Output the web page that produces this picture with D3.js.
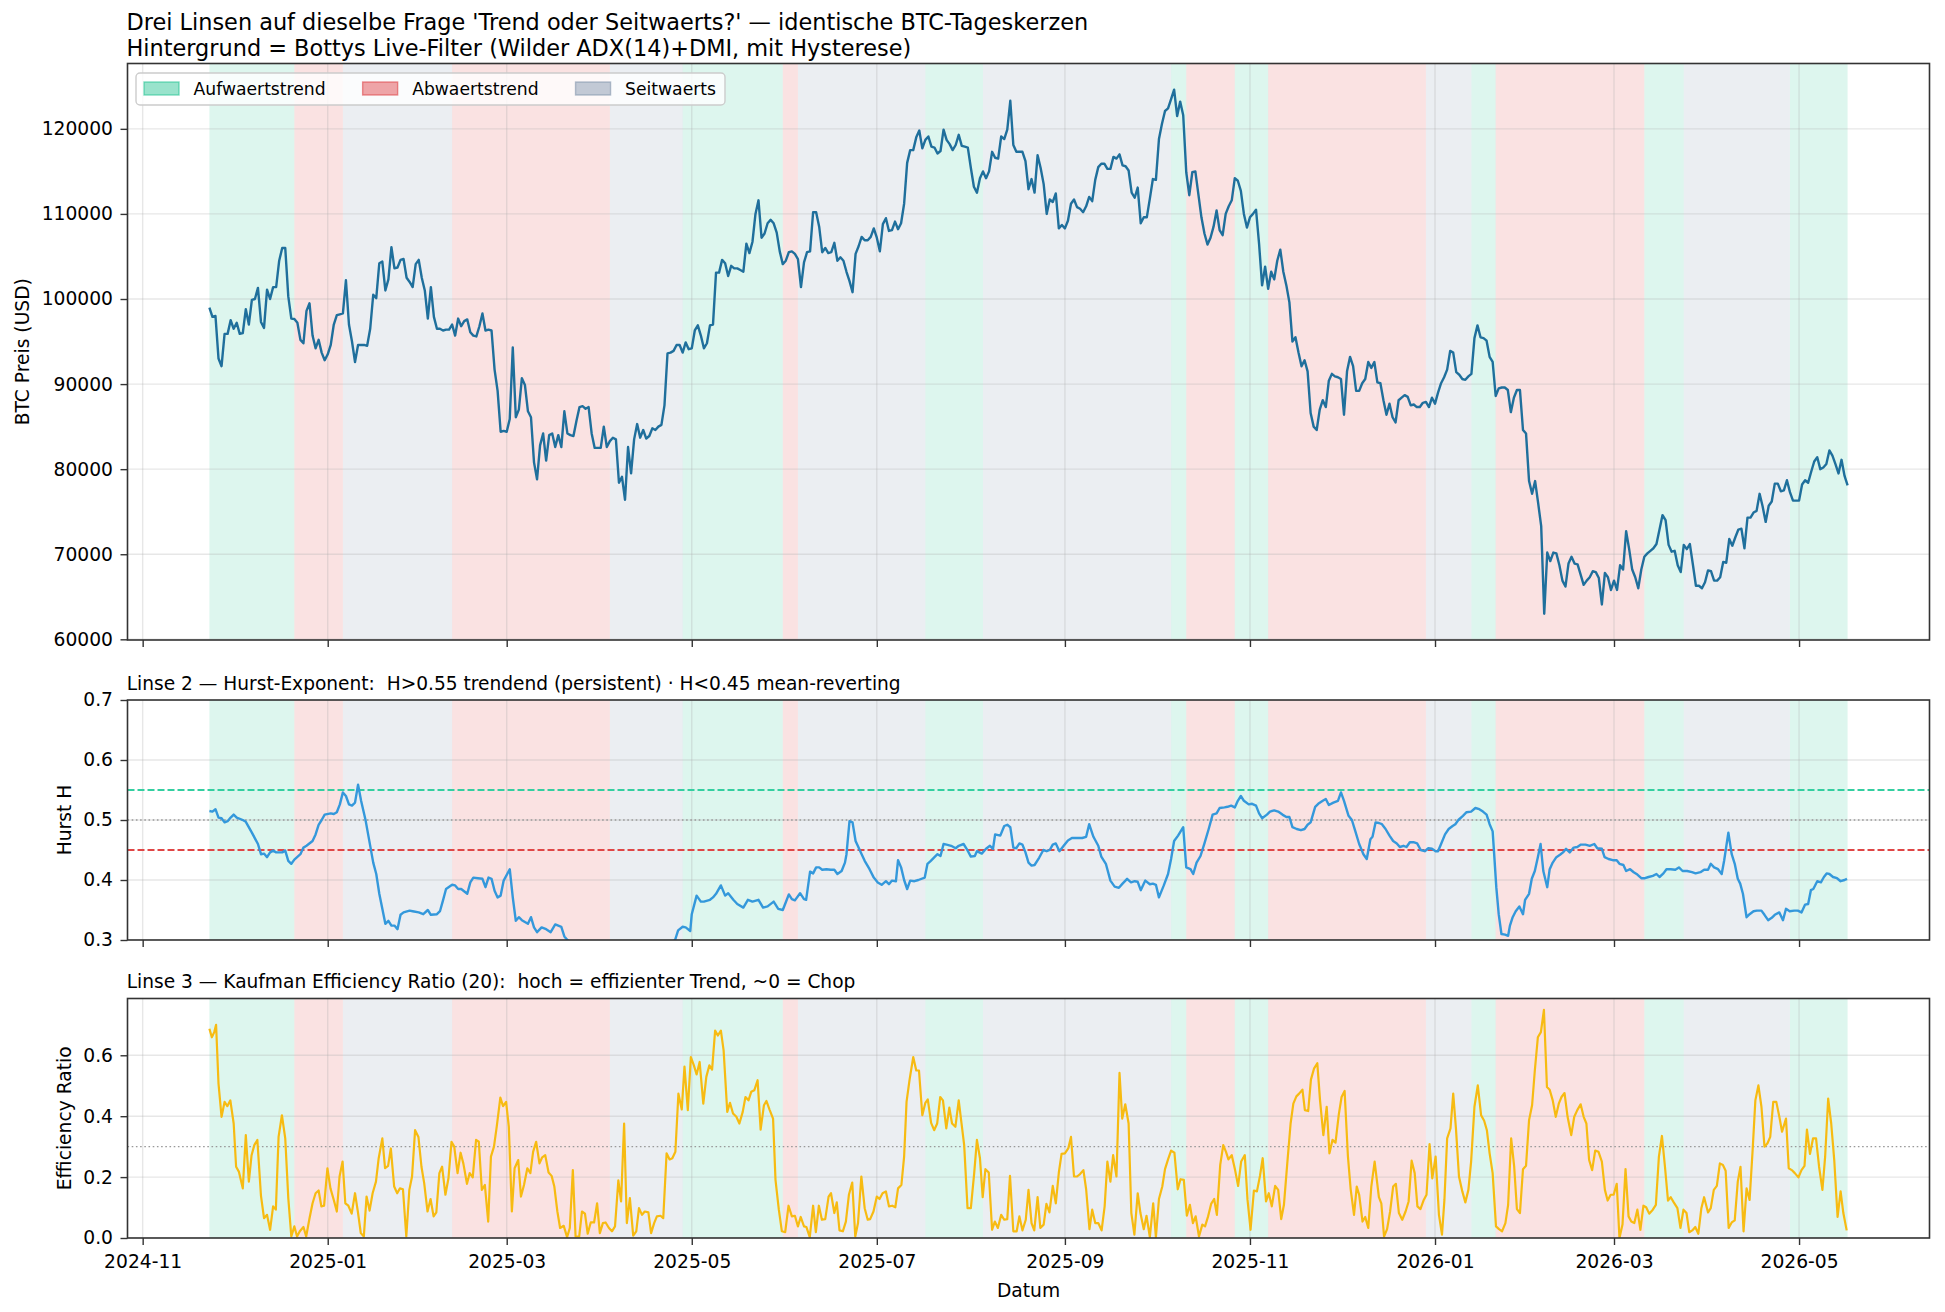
<!DOCTYPE html>
<html><head><meta charset="utf-8">
<script src="https://cdn.jsdelivr.net/npm/d3@7"></script>
<style>
html,body{margin:0;padding:0;background:#fff;}
svg{display:block;font-family:"DejaVu Sans",sans-serif;}
</style></head><body>
<svg id="chart" width="1945" height="1312"></svg>
<script>
// ---------------- DATA ----------------
const DAY0 = "2024-11-01";           // reference for day offsets below
const priceStart = "2024-11-23";     // first daily close
const btcClose = [
99000,97900,98000,93000,92100,95900,95900,97500,96500,97200,
95900,96000,98800,97000,99900,100000,101300,97300,96600,101100,
100000,101400,101400,104500,106000,106000,100300,97700,97650,97200,
95200,94800,98600,99500,95700,94200,95200,93700,92800,93500,
94600,97000,98100,98200,98300,102200,97000,95000,92600,94600,
94600,94600,94500,96500,100500,100100,104200,104400,101000,102300,
106100,103600,103700,104600,104700,102500,102000,101400,104100,104600,
102500,101000,97700,101400,97900,96500,96500,96300,96400,96400,
97000,95700,97700,96800,97400,97600,96100,95700,95600,96800,
98300,96300,96400,96300,91700,89200,84400,84500,84400,85900,
94300,86100,87000,90700,89900,86800,86100,80800,78800,82800,
84200,81000,84000,84200,82600,84000,82600,86800,84200,84000,
83900,85700,87300,87400,87100,87300,84200,82500,82500,82500,
85000,82600,83300,83700,83500,78400,79100,76400,82600,79500,
83500,85300,83700,84600,83600,83900,84800,84600,85000,85200,
87500,93600,93700,93900,94600,94600,93700,94900,94100,94200,
96300,96900,95700,94200,94800,96900,97000,103100,103100,104600,
104200,102700,103900,103600,103600,103400,103200,106500,105400,106700,
110000,111600,
107200,107700,108900,109300,108900,107800,105600,104100,104500,105500,
105600,105300,104700,101400,104300,105500,105600,110200,110200,108500,
105500,106000,105400,105500,106600,104500,104900,104500,103200,102100,
100800,105300,106200,107300,106900,106900,107300,108300,107200,
105600,108800,109500,108000,108100,109100,108200,108900,111200,116000,
117500,117500,119000,119800,117700,118700,119100,117900,117800,117100,
117400,119900,118700,118200,117500,118100,119300,118000,117900,117800,
115400,113200,112500,114200,115000,114200,115000,117300,116600,116500,
119100,118800,119900,123300,118100,117300,117300,117300,116200,112900,
114100,112500,116900,115400,113500,110000,111700,111400,112400,108300,
108700,108300,
109200,111200,111700,110800,110600,110200,110900,112000,111500,114000,
115500,115900,115900,115300,115300,116700,116500,117000,115700,115600,
115100,112500,111900,113100,108900,109600,109600,111800,114100,114000,
118800,120600,122100,122400,123500,124600,
121500,123200,121600,114900,112200,114900,115000,112300,109600,107700,
106400,107200,108500,110400,108100,107500,110000,110900,111600,114200,
113900,112700,110000,108400,109600,110000,110500,106500,101600,103800,
101200,103200,102300,104500,105800,103200,101600,99600,95000,95500,
93700,92100,92800,91500,86600,85000,84600,87000,88100,87300,
90400,91200,90900,90800,90600,86400,91500,93200,92100,89200,
89200,90100,90600,92600,91900,92600,90200,
90100,88100,86400,87700,86100,85500,88100,88400,88700,88500,
87500,87600,87300,87300,87800,87900,87300,88400,87700,
89000,90100,90800,91700,93900,93700,91400,91100,90600,90500,
90900,91200,95400,96900,95500,95400,95100,93200,92600,88600,
89500,89600,89600,89300,86700,88400,89300,89300,84600,84200,
78600,77100,78600,76000,73300,63000,70200,69200,70200,70100,
68700,66900,66200,68900,69700,68900,68800,67600,66400,66900,
67300,68000,67900,67200,64100,67800,67300,65800,66900,
65800,68700,68200,72700,70600,68200,67300,66000,68200,69700,
70100,70400,70700,71200,72900,74600,74000,71100,70300,70400,
68700,67900,71100,70600,71200,68800,66300,66300,66000,66700,
68100,68000,66900,66900,67300,69100,69000,71800,71000,72000,
72900,73000,70700,74300,74300,74900,75100,77100,75600,73800,
75700,76200,78300,78300,77400,77500,78700,77300,76300,76300,
76300,
78200,78700,78400,79700,80900,81400,80000,80200,80600,82200,
81600,80600,79500,81100,79200,78100
];

// [days since DAY0, Hurst H]
const hurstH = [
[22,.515],[23,.514],[24,.518],[25,.504],[26,.503],[27,.496],[28,.498],[29,.504],[30,.509],[31,.504],[33,.500],[34,.497],[36,.479],[38,.460],[39,.443],[40,.444],[41,.438],[42,.446],[43,.449],[44,.446],[46,.446],[47,.449],[48,.432],[49,.427],[50,.434],[52,.443],[53,.454],[54,.457],[56,.465],[57,.476],[58,.492],[59,.500],[60,.509],[62,.511],[63,.510],[64,.513],[65,.526],[66,.546],[67,.540],[68,.526],[69,.524],[70,.529],[71,.559],[72,.532],[73.5,.499],[74.5,.471],[76,.429],[77,.410],[78,.377],[80,.327],[81,.332],[82,.324],[83,.324],[84,.318],[85,.342],[86,.346],[88,.349],[89,.348],[91,.346],[92.5,.343],[94,.350],[95,.342],[97,.343],[98,.348],[99,.366],[100,.385],[102,.392],[103,.391],[104,.385],[105,.385],[107,.377],[108,.396],[109,.404],[110.5,.403],[112,.402],[113,.388],[114,.404],[115,.402],[116,.382],[117,.371],[118,.374],[119,.399],[121,.418],[122,.371],[123,.332],[124,.338],[125,.333],[127,.327],[128,.338],[129,.321],[130,.313],[131.5,.321],[133,.318],[134.5,.313],[136,.326],[138,.322],[139,.306],[140,.300],[145,.28],[152,.27],[160,.26],[168,.275],[175.5,.300],[176.5,.316],[178,.322],[179,.321],[180.5,.315],[181,.343],[182.6,.374],[184,.364],[185,.364],[187,.367],[188,.371],[189,.377],[190.6,.391],[192,.374],[193,.378],[194.7,.367],[196,.360],[198,.354],[199.5,.367],[201,.364],[203,.367],
[204.5,.354],[206,.356],[208,.364],[209.5,.352],[211,.350],[212,.363],[213,.376],[214,.368],[215,.366],[216.7,.378],[218,.368],[218.7,.367],[220,.414],[221,.411],[222,.421],[223,.421],[224,.417],[225.4,.418],[226.8,.417],[228,.417],[229,.410],[230.4,.415],[231.5,.429],[232,.443],[233,.498],[234,.496],[235,.465],[237,.443],[238,.432],[239.6,.418],[241,.404],[242.3,.396],[243.6,.392],[245,.398],[246,.393],[247,.399],[248.3,.398],[249,.433],[250,.421],[251,.400],[252,.385],[253,.399],[254.4,.398],[255.7,.400],[257.8,.404],[258.7,.427],[259.8,.432],[261,.438],[262,.443],[263,.440],[264,.460],[265,.459],[266.5,.457],[268,.453],[269,.457],[270.6,.460],[271.6,.452],[273,.439],[274.3,.440],[275,.448],[276.6,.444],[278,.452],[279.3,.457],[280.3,.452],[281,.476],[282.7,.474],[284,.490],[285,.492],[286,.488],[287,.454],[288,.453],[289,.461],[290,.459],[291,.446],[292,.429],[293,.424],[294,.425],[295.5,.437],[296.9,.450],[298,.448],[299,.450],[300,.459],[301,.461],[302.2,.448],[303.6,.457],[305,.466],[306.3,.470],[308.3,.470],[309.7,.470],[311,.472],[312,.493],[313.4,.472],[315,.457],[316,.439],[317.5,.427],[319,.399],[320.4,.389],[321.8,.387],[323,.394],[324.5,.402],[325.8,.396],[327,.398],[328,.397],[329,.383],[330.5,.399],[332,.393],[333,.394],[334,.392],[335,.371],[336.6,.391],[338,.410],[339,.435],[340,.465],[341.3,.474],[343,.488],[344,.421],[345.4,.418],[346.3,.410],[347.4,.429],[348.7,.440],[350,.461],[351.4,.485],[352.7,.509],[354,.511],[355,.520],[356.6,.521],[357.6,.522],[358.8,.524],[360,.521],[361,.532],[362,.540],[363,.532],[364.6,.526],[365.7,.527],[367,.524],[368,.511],[369,.503],[370.6,.509],[371.6,.514],[373,.516],[374.3,.514],[375.7,.509],[377,.505],[378,.505],[379,.488],[380.4,.485],[381.8,.483],[383,.485],[384,.492],[385,.496],[386.5,.522],[387.5,.527],[389,.532],[390,.535],[391,.525],[392.5,.529],[394,.532],[395,.546],[396,.532],[397.5,.507],[398.6,.500],[399.7,.482],[401,.460],[402.4,.443],[403.5,.435],[404.7,.468],[405.4,.472],[406.4,.496],[407.5,.495],
[408.5,.493],[409.7,.485],[411,.474],[412.2,.465],[413.4,.461],[414.4,.455],[415.6,.457],[416.6,.455],[417.7,.463],[418.9,.463],[420.1,.461],[421.3,.450],[422.6,.448],[423.8,.453],[425,.452],[426.2,.448],[427,.448],[428,.460],[429.3,.476],[430.5,.485],[431.8,.490],[432.7,.493],[433.7,.500],[435.2,.507],[436.4,.513],[437.9,.514],[439.3,.520],[440.6,.518],[441.8,.514],[443,.509],[444,.493],[445,.481],[445.5,.443],[446.2,.388],[447,.343],[447.9,.310],[449.1,.309],[450.1,.307],[450.7,.324],[451.6,.338],[452.6,.348],[453.8,.356],[455,.343],[455.7,.367],[457,.377],[457.9,.402],[458.9,.415],[459.9,.438],[460.8,.460],[461.7,.415],[463,.388],[463.8,.418],[464.8,.429],[466,.438],[467.2,.442],[468.2,.446],[469.2,.452],[470.4,.446],[471.7,.454],[472.9,.455],[474.1,.459],[475.6,.459],[477,.457],[478.5,.460],[479.5,.453],[481,.452],[481.9,.438],[483.2,.435],[484.6,.433],[485.9,.433],[486.8,.427],[488.1,.425],[489,.415],[490.3,.418],[491.5,.413],[492.7,.409],[494,.403],[495.2,.403],[496.4,.405],[497.8,.407],[499,.410],[500,.405],[501.3,.411],[502.3,.418],[503.7,.418],[505.2,.417],[506.4,.421],[507.6,.415],[509.1,.415],[510.7,.413],[511.9,.411],[513.5,.413],[514.7,.417],[516,.417],[516.9,.427],[518,.421],[519.3,.418],[520.5,.410],[521.3,.432],[522.7,.479],[523.8,.443],[524.8,.427],[525.8,.402],[526.6,.394],[527.5,.377],[528.7,.338],[529.7,.343],[531,.348],[532.1,.349],[533.6,.349],[534.6,.342],[535.8,.333],[537,.337],[538,.342],[539.5,.346],[540.7,.333],[541.7,.352],[542.9,.348],[544.4,.349],[545.6,.349],[546.8,.346],[548,.359],[549,.360],[549.9,.383],[550.7,.385],[552,.398],[553.2,.396],[554.2,.405],[555.1,.411],[556,.410],[557.2,.405],[558.5,.403],[559.7,.398],[561,.400],[561.8,.402]
];

// [days since DAY0, Kaufman efficiency ratio]
const efficiencyRatio = [
[22,.687],[22.8,.659],[23.6,.676],[24.2,.700],[25,.507],[26,.398],[27,.447],[27.9,.433],[28.9,.452],[30,.376],[30.8,.234],[31.7,.218],[33,.163],[34,.338],[35,.185],[35.9,.272],[36.8,.305],[37.8,.322],[39,.138],[40,.065],[41,.076],[42,.027],[43,.104],[43.9,.093],[44.8,.332],[45.9,.403],[47,.327],[48,.131],[49,.005],[50,.038],[50.9,.005],[51.8,.022],[53,.036],[53.9,.005],[55,.065],[56,.114],[57,.147],[58,.156],[58.9,.104],[59.8,.106],[60.9,.229],[61.9,.163],[63,.125],[64,.087],[64.9,.202],[65.9,.251],[66.8,.114],[67.8,.106],[68.9,.080],[70,.147],[71,.082],[71.9,.016],[72.9,.005],[73.8,.136],[74.8,.090],[75.8,.147],[76.9,.185],[77.8,.262],[79,.327],[79.9,.229],[80.9,.237],[81.8,.294],[82.9,.169],[83.9,.147],[84.8,.163],[85.8,.160],[86.9,.005],[87.9,.158],[88.8,.202],[89.8,.354],[90.9,.332],[91.9,.234],[92.8,.180],[93.9,.087],[94.9,.128],[95.9,.071],[96.8,.084],[97.8,.213],[98.7,.234],[99.8,.142],[100.8,.196],[101.8,.316],[102.7,.300],[103.8,.213],[104.8,.280],[105.7,.245],[106.9,.178],[107.8,.213],[108.8,.199],[109.9,.322],[110.8,.316],[111.8,.158],[112.8,.174],[113.9,.054],[114.8,.267],[115.8,.300],[116.7,.365],[117.9,.461],[118.8,.433],[119.8,.447],[120.7,.365],[121.7,.087],[122.6,.229],[123.8,.256],[124.7,.136],[125.7,.174],[126.8,.229],[127.8,.213],[128.7,.283],[129.7,.316],[130.8,.245],[131.7,.265],[132.7,.272],[133.8,.215],[134.8,.204],[135.7,.169],[136.7,.087],[137.6,.033],[138.8,.040],[139.9,.003],[140.8,.033],[141.8,.223],[142.7,.005],[143.9,.005],[144.8,.087],[145.8,.080],[146.7,.014],[147.7,.051],[148.8,.051],[149.8,.114],[150.7,.016],[151.7,.049],[152.6,.051],[153.7,.033],[154.7,.022],[155.7,.038],[156.8,.189],[157.7,.120],[158.7,.376],[159.6,.049],[160.6,.131],[161.7,.008],[162.7,.022],[163.6,.098],[164.6,.076],[165.5,.087],[166.7,.084],[167.6,.016],[168.6,.049],[169.5,.071],[170.7,.073],[171.6,.065],[172.7,.278],[173.7,.258],[174.6,.262],[175.6,.283],[176.6,.474],[177.7,.422],[178.6,.563],[179.7,.420],[180.7,.594],[181.7,.567],[182.6,.537],[183.6,.578],[184.8,.441],[185.8,.529],[186.8,.567],[187.7,.553],[188.7,.681],[189.6,.665],[190.6,.681],[191.5,.616],[192.7,.414],[193.6,.444],[194.6,.409],[195.7,.398],[196.7,.376],[197.8,.414],[198.7,.463],[199.7,.452],[200.6,.480],[201.6,.485],[202.7,.518],
[203.7,.356],[204.8,.436],[205.6,.450],[206.7,.420],[207.8,.392],[208.6,.191],[209.7,.093],[210.7,.022],[211.8,.019],[212.9,.106],[214,.071],[215,.073],[216,.038],[216.9,.069],[218,.038],[218.8,.036],[219.9,.003],[221,.106],[221.9,.019],[222.9,.106],[223.9,.060],[225,.062],[226.1,.136],[226.9,.147],[228,.082],[228.8,.117],[229.7,.025],[230.8,.022],[231.8,.054],[232.8,.142],[233.9,.182],[234.9,.005],[235.8,.049],[236.9,.202],[238,.098],[239,.060],[239.8,.062],[240.9,.087],[242,.136],[242.9,.128],[243.9,.147],[245,.153],[246,.104],[247.1,.106],[248.1,.101],[249,.163],[250.1,.174],[251,.267],[251.8,.447],[252.8,.520],[254,.594],[255,.550],[255.9,.550],[257,.403],[258,.444],[258.8,.455],[259.9,.378],[260.9,.354],[261.9,.376],[262.9,.463],[263.8,.452],[264.9,.360],[265.9,.428],[266.8,.376],[267.9,.365],[269,.452],[269.9,.378],[270.8,.305],[271.9,.098],[273,.098],[274.1,.213],[275,.322],[276,.262],[276.9,.134],[277.8,.226],[278.9,.215],[280,.027],[280.9,.054],[281.9,.033],[283,.076],[284,.060],[285,.062],[285.9,.204],[287,.022],[288.1,.022],[289,.071],[290,.025],[291.1,.060],[292,.158],[293,.049],[293.9,.025],[295,.134],[295.9,.033],[297,.044],[297.9,.112],[298.9,.084],[300,.171],[301,.114],[302,.215],[302.9,.276],[304,.278],[305.1,.294],[306,.332],[307,.202],[308,.202],[309,.210],[310.1,.223],[311,.160],[312.1,.029],[313,.093],[314,.049],[315,.049],[316.1,.025],[317.1,.104],[318,.251],[319,.185],[319.9,.272],[321,.202],[322,.542],[322.9,.392],[323.9,.439],[325,.376],[325.9,.082],[326.9,.011],[328,.147],[328.9,.082],[330,.029],[330.9,.073],[332,.003],[333.1,.114],[334,.003],[335,.128],[336.1,.169],[337,.226],[338,.258],[339,.287],[340.1,.280],[341.2,.160],[342.1,.193],[343.2,.191],[344.2,.073],[345.2,.109],[346.2,.049],[347.1,.071],[348.2,.005],[349.3,.044],[350.2,.038],[351.2,.071],[352.2,.112],[353.2,.128],[354.1,.076],[355.2,.240],[356.2,.305],[357.1,.283],[357.9,.258],[359,.272],[360.1,.223],[361.1,.171],[362.1,.251],[363.3,.272],[364.2,.125],[365.2,.027],[366.3,.156],[367.3,.153],[368.3,.204],[369.2,.262],[370.3,.120],[371.2,.147],[372.2,.104],[373.3,.171],[374.3,.158],[375.3,.062],[376.2,.109],[377.3,.245],[378.4,.376],[379.3,.441],[380.3,.465],[381.2,.474],[382.3,.487],[383.1,.420],[384.2,.417],[385.1,.520],[386.1,.556],[387.2,.574],[388.1,.452],[389.2,.338],[390.3,.431],[391.2,.278],[392.2,.322],[393.2,.313],[394.3,.407],[395.2,.463],[396.2,.483],[397.3,.267],[398.2,.160],[399.3,.076],[400.2,.169],[401,.142],[402.1,.054],[403,.069],[404,.033],[405,.169],[406.1,.251],[407.5,.134],
[408.3,.114],[409.2,.005],[410.2,.029],[411.2,.087],[412.2,.169],[413.1,.178],[414.1,.082],[415.2,.060],[416.3,.087],[417.3,.120],[418.3,.254],[419.3,.213],[420.2,.104],[421.2,.095],[422.2,.123],[423.2,.142],[424.2,.308],[425.1,.196],[426.2,.267],[427.3,.076],[428.3,.011],[429.1,.125],[430,.327],[431.1,.360],[432,.474],[432.9,.360],[433.9,.202],[435,.153],[436,.117],[437,.158],[437.9,.251],[439,.431],[440.1,.501],[441.2,.403],[442.2,.385],[443.1,.354],[444,.278],[445,.213],[446.1,.038],[447.1,.029],[448.1,.022],[449.2,.049],[450.1,.109],[451.1,.327],[452.1,.234],[453,.095],[454,.082],[455,.226],[456,.237],[457,.387],[458,.436],[458.9,.550],[459.9,.659],[460.9,.676],[461.9,.749],[462.9,.496],[463.8,.487],[464.8,.452],[465.8,.398],[466.8,.441],[467.7,.463],[468.7,.476],[469.7,.398],[470.9,.338],[471.9,.398],[472.9,.420],[474,.439],[475,.398],[475.9,.376],[476.8,.256],[477.8,.223],[478.8,.287],[479.9,.283],[481,.251],[482,.158],[482.9,.123],[483.9,.142],[484.9,.142],[485.9,.178],[486.8,0],[487.8,.044],[488.8,.226],[489.8,.071],[490.7,.054],[491.7,.049],[492.7,.093],[493.7,.027],[494.7,.106],[495.6,.101],[496.6,.080],[497.8,.093],[498.8,.109],[499.8,.267],[500.8,.335],[501.8,.234],[502.8,.123],[503.7,.134],[504.7,.117],[505.9,.098],[506.9,.033],[507.9,.093],[508.9,.082],[509.8,.019],[510.8,.025],[511.8,.036],[512.8,.014],[513.8,.098],[514.7,.134],[516,.084],[516.9,.098],[517.9,.158],[518.9,.171],[519.9,.245],[520.9,.240],[521.8,.221],[522.8,.033],[523.8,.051],[524.8,.058],[525.8,.185],[526.7,.234],[527.7,.022],[528.7,.163],[529.7,.125],[530.7,.289],[531.6,.452],[532.6,.501],[533.6,.431],[534.6,.300],[535.6,.311],[536.5,.332],[537.5,.447],[538.5,.447],[539.5,.398],[540.4,.349],[541.7,.392],[542.6,.229],[543.6,.223],[544.6,.213],[545.8,.199],[546.8,.223],[547.8,.237],[548.6,.356],[549.6,.276],[550.6,.327],[551.6,.327],[552.6,.234],[553.7,.158],[554.6,.267],[555.6,.458],[556.6,.376],[557.6,.256],[558.7,.069],[559.7,.153],[560.6,.082],[561.7,.025]
];

// regime bands: [start, end, regime]
const regimes = [
["2024-11-23","2024-12-21","up"],
["2024-12-21","2025-01-06","down"],
["2025-01-06","2025-02-11","side"],
["2025-02-11","2025-04-04","down"],
["2025-04-04","2025-04-28","side"],
["2025-04-28","2025-05-31","up"],
["2025-05-31","2025-06-05","down"],
["2025-06-05","2025-07-17","side"],
["2025-07-17","2025-08-05","up"],
["2025-08-05","2025-10-06","side"],
["2025-10-06","2025-10-11","up"],
["2025-10-11","2025-10-27","down"],
["2025-10-27","2025-11-07","up"],
["2025-11-07","2025-12-29","down"],
["2025-12-29","2026-01-13","side"],
["2026-01-13","2026-01-21","up"],
["2026-01-21","2026-03-11","down"],
["2026-03-11","2026-03-24","up"],
["2026-03-24","2026-04-28","side"],
["2026-04-28","2026-05-17","up"]
];
const regimeNames = ["up","down","side"];
const regimeLabels = ["Aufwaertstrend","Abwaertstrend","Seitwaerts"];
const xTickLabels = ["2024-11","2025-01","2025-03","2025-05","2025-07","2025-09","2025-11","2026-01","2026-03","2026-05"];
const priceTicks = [60000,70000,80000,90000,100000,110000,120000];
const hurstTicks = [0.3,0.4,0.5,0.6,0.7];
const erTicks = [0.0,0.2,0.4,0.6];
const hurstTrendLevel = 0.55, hurstRandomLevel = 0.5, hurstMeanRevLevel = 0.45;
const erChopLevel = 0.3;
const titleLines = ["Drei Linsen auf dieselbe Frage 'Trend oder Seitwaerts?' \u2014 identische BTC-Tageskerzen",
                    "Hintergrund = Bottys Live-Filter (Wilder ADX(14)+DMI, mit Hysterese)"];
const hurstTitle = "Linse 2 \u2014 Hurst-Exponent:  H>0.55 trendend (persistent) \u00b7 H<0.45 mean-reverting";
const erTitle = "Linse 3 \u2014 Kaufman Efficiency Ratio (20):  hoch = effizienter Trend, ~0 = Chop";

// ---------------- STYLE / LAYOUT ----------------
const L = 127.5, R = 1929.5;
const P1 = {top: 63.5, bottom: 640};
const P2 = {top: 700, bottom: 940};
const P3 = {top: 998.5, bottom: 1238};
const regimeColor = {up: "#1cc18f", down: "#dd3a3e", side: "#7b8fa8"};
const FS_TICK = 18.7, FS_LABEL = 18.7, FS_SUB = 18.6, FS_LEG = 17.2, FS_TITLE = 22.4;

const svg = d3.select("#chart");
const parseDay = d3.utcParse("%Y-%m-%d");
const parseMonth = d3.utcParse("%Y-%m");
const day0 = parseDay(DAY0);
const offDate = d => new Date(+day0 + d * 864e5);

const priceSeries = btcClose.map((v, i) => ({date: d3.utcDay.offset(parseDay(priceStart), i), value: v}));
const hurstSeries = hurstH.map(([d, v]) => ({date: offDate(d), value: v}));
const erSeries = efficiencyRatio.map(([d, v]) => ({date: offDate(d), value: v}));

const first = priceSeries[0].date, last = priceSeries[priceSeries.length - 1].date;
const span = last - first;
const x = d3.scaleUtc().domain([new Date(+first - 0.05 * span), new Date(+last + 0.05 * span)]).range([L, R]);

const pMin = d3.min(btcClose), pMax = d3.max(btcClose), pr = pMax - pMin;
const yPrice = d3.scaleLinear().domain([pMin - 0.05 * pr, pMax + 0.05 * pr]).range([P1.bottom, P1.top]);
const yHurst = d3.scaleLinear().domain([0.3, 0.7]).range([P2.bottom, P2.top]);
const yER = d3.scaleLinear().domain([0, d3.max(efficiencyRatio, d => d[1]) * 1.05]).range([P3.bottom, P3.top]);

const xTickDates = xTickLabels.map(parseMonth);
const defs = svg.append("defs");

function panel(id, P, y, yTicks, fmt, showXLabels) {
  defs.append("clipPath").attr("id", "clip-" + id)
    .append("rect").attr("x", L).attr("y", P.top).attr("width", R - L).attr("height", P.bottom - P.top);
  const g = svg.append("g").attr("class", "panel-" + id);
  const inner = g.append("g").attr("clip-path", `url(#clip-${id})`);
  inner.append("g").selectAll("rect").data(regimes).join("rect")
    .attr("x", d => x(parseDay(d[0])))
    .attr("width", d => x(parseDay(d[1])) - x(parseDay(d[0])))
    .attr("y", P.top).attr("height", P.bottom - P.top)
    .attr("fill", d => regimeColor[d[2]]).attr("fill-opacity", 0.15);
  inner.append("g").selectAll("line").data(xTickDates).join("line")
    .attr("x1", d => x(d)).attr("x2", d => x(d)).attr("y1", P.top).attr("y2", P.bottom)
    .attr("stroke", "#b0b0b0").attr("stroke-opacity", 0.3).attr("stroke-width", 1.4);
  inner.append("g").selectAll("line").data(yTicks).join("line")
    .attr("x1", L).attr("x2", R).attr("y1", d => y(d)).attr("y2", d => y(d))
    .attr("stroke", "#b0b0b0").attr("stroke-opacity", 0.3).attr("stroke-width", 1.4);
  const ay = g.append("g").attr("transform", `translate(${L},0)`)
    .call(d3.axisLeft(y).tickValues(yTicks).tickFormat(fmt).tickSize(7).tickPadding(7.5));
  const ax = g.append("g").attr("transform", `translate(0,${P.bottom})`)
    .call(d3.axisBottom(x).tickValues(xTickDates)
      .tickFormat(showXLabels ? d3.utcFormat("%Y-%m") : () => "").tickSize(7).tickPadding(10));
  [ay, ax].forEach(a => {
    a.attr("font-size", FS_TICK).attr("font-family", "DejaVu Sans");
    a.select(".domain").remove();
    a.selectAll(".tick line").attr("stroke", "#333").attr("stroke-width", 1.4);
    a.selectAll(".tick text").attr("fill", "#000").attr("font-size", FS_TICK);
  });
  return {g, inner};
}

function spine(P) {
  svg.append("rect").attr("x", L).attr("y", P.top).attr("width", R - L).attr("height", P.bottom - P.top)
    .attr("fill", "none").attr("stroke", "#333").attr("stroke-width", 1.6);
}

// ---- Panel 1: price ----
const p1 = panel("price", P1, yPrice, priceTicks, d3.format("d"), false);
p1.inner.append("path").datum(priceSeries)
  .attr("d", d3.line().x(d => x(d.date)).y(d => yPrice(d.value)))
  .attr("fill", "none").attr("stroke", "#1f6f9c").attr("stroke-width", 2.4).attr("stroke-linejoin", "round");
spine(P1);

// legend
const lg = svg.append("g").attr("transform", `translate(${L + 8.5},${P1.top + 9.5})`);
const lgBox = lg.append("rect").attr("x", 0).attr("y", 0).attr("height", 32).attr("rx", 4)
  .attr("fill", "#fff").attr("fill-opacity", 0.8).attr("stroke", "#cccccc").attr("stroke-width", 1.4);
let cx = 8;
regimeNames.forEach((k, i) => {
  lg.append("rect").attr("x", cx).attr("y", 9).attr("width", 35).attr("height", 13)
    .attr("fill", regimeColor[k]).attr("fill-opacity", 0.45)
    .attr("stroke", regimeColor[k]).attr("stroke-opacity", 0.55).attr("stroke-width", 1.4);
  const t = lg.append("text").attr("x", cx + 49.5).attr("y", 22).attr("font-size", FS_LEG).attr("fill", "#000")
    .text(regimeLabels[i]);
  const w = t.node().getComputedTextLength();
  cx = cx + 49.5 + w + (i < regimeNames.length - 1 ? 37 : 9);
});
lgBox.attr("width", cx);

// ---- Panel 2: Hurst ----
const p2 = panel("hurst", P2, yHurst, hurstTicks, d3.format(".1f"), false);
[[hurstTrendLevel, "#33cfa0", "7,3", 1.8], [hurstRandomLevel, "#999999", "1.6,2.6", 1.3], [hurstMeanRevLevel, "#e04646", "7,3", 1.8]]
  .forEach(([v, c, da, w]) => {
    p2.inner.append("line").attr("x1", L).attr("x2", R).attr("y1", yHurst(v)).attr("y2", yHurst(v))
      .attr("stroke", c).attr("stroke-dasharray", da).attr("stroke-width", w);
  });
p2.inner.append("path").datum(hurstSeries)
  .attr("d", d3.line().x(d => x(d.date)).y(d => yHurst(d.value)))
  .attr("fill", "none").attr("stroke", "#3498db").attr("stroke-width", 2.4).attr("stroke-linejoin", "round");
spine(P2);

// ---- Panel 3: ER ----
const p3 = panel("er", P3, yER, erTicks, d3.format(".1f"), true);
p3.inner.append("line").attr("x1", L).attr("x2", R).attr("y1", yER(erChopLevel)).attr("y2", yER(erChopLevel))
  .attr("stroke", "#999999").attr("stroke-dasharray", "1.6,2.6").attr("stroke-width", 1.3);
p3.inner.append("path").datum(erSeries)
  .attr("d", d3.line().x(d => x(d.date)).y(d => yER(d.value)))
  .attr("fill", "none").attr("stroke", "#f7bb12").attr("stroke-width", 2.2).attr("stroke-linejoin", "round");
spine(P3);

// ---- texts ----
titleLines.forEach((t, i) => {
  svg.append("text").attr("x", 126.5).attr("y", 29.5 + i * 26).attr("font-size", FS_TITLE).attr("fill", "#000").text(t);
});
svg.append("text").attr("x", 126.7).attr("y", P2.top - 10).attr("font-size", FS_SUB).attr("fill", "#000")
  .attr("xml:space", "preserve").style("white-space", "pre").text(hurstTitle);
svg.append("text").attr("x", 126.7).attr("y", P3.top - 11).attr("font-size", FS_SUB).attr("fill", "#000")
  .attr("xml:space", "preserve").style("white-space", "pre").text(erTitle);

function ylabel(t, xpos, P) {
  svg.append("text").attr("transform", `translate(${xpos},${(P.top + P.bottom) / 2}) rotate(-90)`)
    .attr("text-anchor", "middle").attr("font-size", FS_LABEL).attr("fill", "#000").text(t);
}
ylabel("BTC Preis (USD)", 29, P1);
ylabel("Hurst H", 71, P2);
ylabel("Efficiency Ratio", 71, P3);
svg.append("text").attr("x", (L + R) / 2).attr("y", 1297).attr("text-anchor", "middle")
  .attr("font-size", FS_LABEL).attr("fill", "#000").text("Datum");
</script>
</body></html>
